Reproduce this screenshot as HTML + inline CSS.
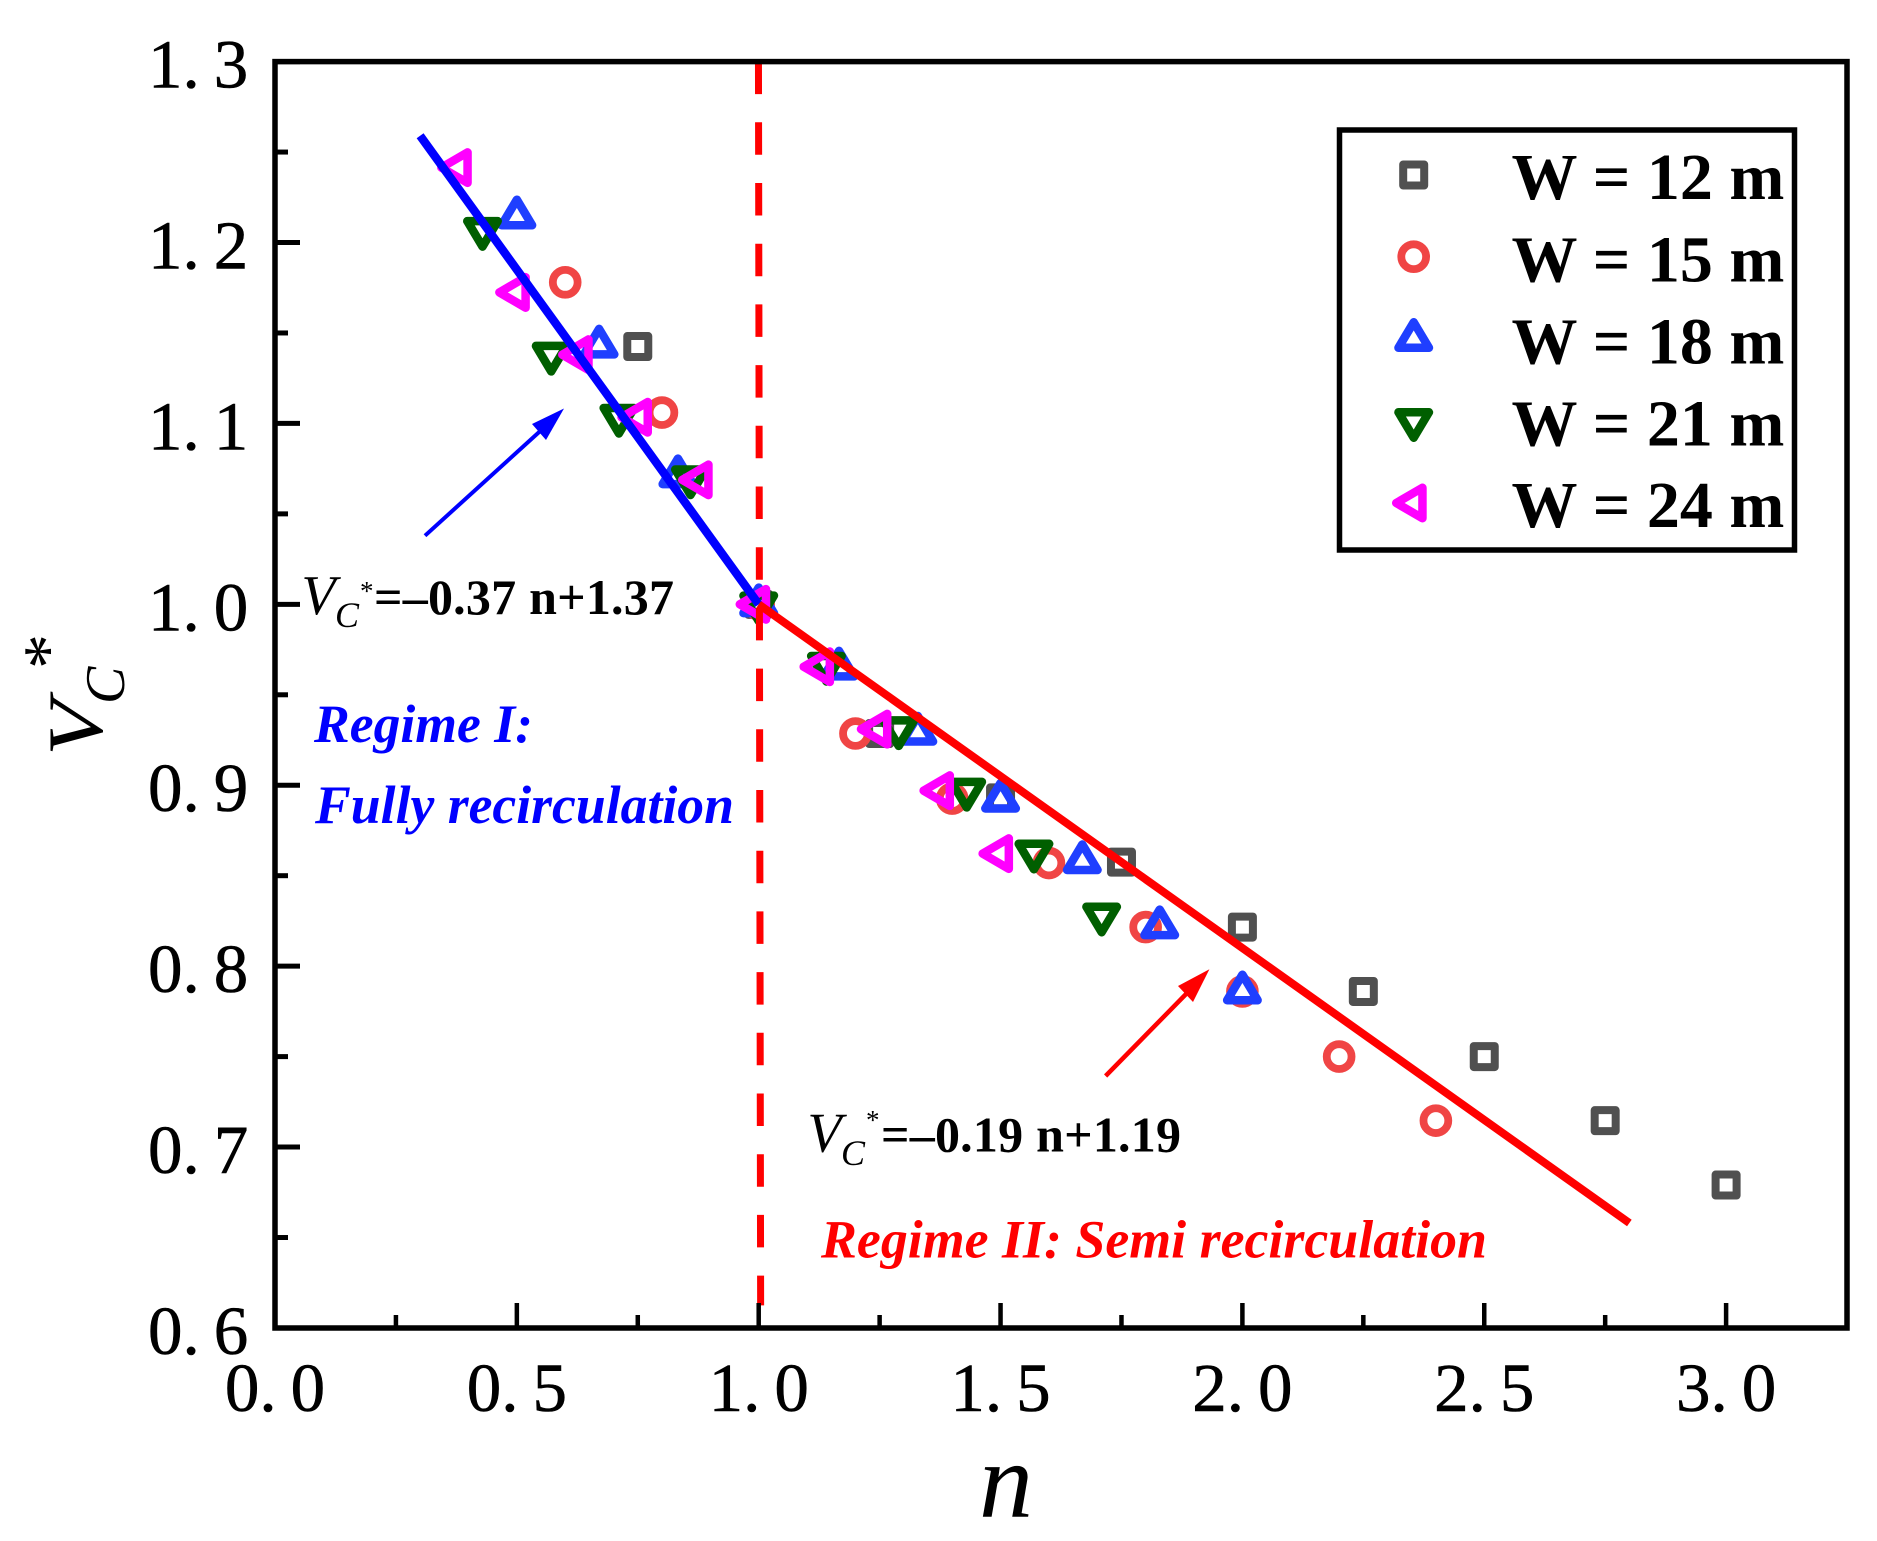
<!DOCTYPE html>
<html lang="en">
<head>
<meta charset="utf-8">
<title>Vc* versus n</title>
<style>
html,body{margin:0;padding:0;background:#fff;width:1877px;height:1541px;overflow:hidden}
svg{display:block}
text{font-family:"Liberation Serif",serif;fill:#000}
.b{font-weight:bold}
.i{font-style:italic}
</style>
</head>
<body>
<svg id="chart" xmlns="http://www.w3.org/2000/svg" width="1877" height="1541" viewBox="0 0 1877 1541">
  <rect x="0" y="0" width="1877" height="1541" fill="#fff"/>
  <g id="markers"></g>
  <g id="lines"></g>
  <rect x="275" y="61.6" width="1572" height="1266.4" fill="none" stroke="#000" stroke-width="5.5"/>
  <g id="ticks"></g>

  <g>
    <text class="i" font-size="78" transform="translate(102 756) rotate(-90) scale(1.17 1)">V</text>
    <text class="i" font-size="56" transform="translate(124 704) rotate(-90)">C</text>
    <text font-size="70" transform="translate(71 669) rotate(-90)">*</text>
  </g>
  <text class="i" font-size="108" x="1006" y="1517" text-anchor="middle">n</text>

  <g>
    <line x1="425" y1="535.7" x2="548" y2="424" stroke="#0000ff" stroke-width="4"/>
    <polygon points="564,408.5 532,424 546,440" fill="#0000ff"/>
  </g>
  <g>
    <line x1="1105.6" y1="1076" x2="1190" y2="990" stroke="#ff0000" stroke-width="4.5"/>
    <polygon points="1209.4,969.3 1178,986 1193,1002" fill="#ff0000"/>
  </g>

  <text font-size="50">
    <tspan class="i" x="301.4" y="614" font-size="56">V</tspan><tspan class="i" x="335" y="627" font-size="36">C</tspan><tspan x="360" y="600" font-size="27">*</tspan><tspan class="b" x="374" y="614" textLength="300">=–0.37 n+1.37</tspan>
  </text>
  <text font-size="50">
    <tspan class="i" x="807.4" y="1151.7" font-size="56">V</tspan><tspan class="i" x="841" y="1165" font-size="36">C</tspan><tspan x="866" y="1129" font-size="27">*</tspan><tspan class="b" x="881" y="1151.7" textLength="300">=–0.19 n+1.19</tspan>
  </text>

  <text class="b i" font-size="54" x="314" y="742" textLength="219" lengthAdjust="spacingAndGlyphs" style="fill:#0000ff">Regime I:</text>
  <text class="b i" font-size="54" x="315" y="823" textLength="419" lengthAdjust="spacingAndGlyphs" style="fill:#0000ff">Fully recirculation</text>
  <text class="b i" font-size="54" x="821" y="1257.7" textLength="666" lengthAdjust="spacingAndGlyphs" style="fill:#ff0000">Regime II: Semi recirculation</text>

  <g>
    <rect x="1339.5" y="130" width="455" height="420" fill="#fff" stroke="#000" stroke-width="5.5"/>
    <g>
      <rect x="1403.2" y="164.5" width="21" height="21" fill="none" stroke="#505050" stroke-width="8" stroke-linejoin="round"/>
      <text class="b" font-size="66" x="1511.5" y="199">W = 12 m</text>
    </g>
    <g>
      <circle cx="1413.7" cy="256.7" r="12.4" fill="none" stroke="#f04545" stroke-width="7.8"/>
      <text class="b" font-size="66" x="1511.5" y="281.5">W = 15 m</text>
    </g>
    <g>
      <polygon points="1413.7,322.25 1428.95,347.75 1398.45,347.75" fill="none" stroke="#1f3fff" stroke-width="8.5" stroke-linejoin="round"/>
      <text class="b" font-size="66" x="1511.5" y="363.5">W = 18 m</text>
    </g>
    <g>
      <polygon points="1413.7,437.75 1428.95,412.25 1398.45,412.25" fill="none" stroke="#005f00" stroke-width="8.5" stroke-linejoin="round"/>
      <text class="b" font-size="66" x="1511.5" y="445.5">W = 21 m</text>
    </g>
    <g>
      <polygon points="1396.25,503 1422.45,487.75 1422.45,518.25" fill="none" stroke="#ff00ff" stroke-width="8.5" stroke-linejoin="round"/>
      <text class="b" font-size="66" x="1511.5" y="527">W = 24 m</text>
    </g>
  </g>
</svg>

<script>
// ---- chart data ----
const w12X = [0.75, 1.0, 1.25, 1.5, 1.75, 2.0, 2.25, 2.5, 2.75, 3.0];
const w12Y = [1.1425, 1.0, 0.9286, 0.893, 0.8575, 0.8216, 0.786, 0.75, 0.7146, 0.679];
const w15X = [0.6, 0.8, 1.0, 1.2, 1.4, 1.6, 1.8, 2.0, 2.2, 2.4];
const w15Y = [1.178, 1.106, 1.0, 0.9286, 0.8926, 0.857, 0.8216, 0.786, 0.75, 0.7146];
const w18X = [0.5, 0.67, 0.833, 1.0, 1.166, 1.329, 1.5, 1.669, 1.829, 2.0];
const w18Y = [1.2144, 1.143, 1.0713, 1.0, 0.965, 0.929, 0.892, 0.858, 0.822, 0.786];
const w21X = [0.429, 0.571, 0.711, 0.859, 1.0, 1.14, 1.2895, 1.43, 1.569, 1.709];
const w21Y = [1.207, 1.138, 1.1037, 1.0697, 1.0, 0.9666, 0.931, 0.897, 0.8628, 0.828];
const w24X = [0.38, 0.5, 0.63, 0.7525, 0.878, 0.997, 1.129, 1.2476, 1.377, 1.499];
const w24Y = [1.2414, 1.1724, 1.138, 1.1034, 1.0688, 1.0, 0.9655, 0.931, 0.897, 0.8622];

const fit1X = [0.3, 1.0];
const fit1Y = [1.259, 1.0];
const fit2X = [1.0, 2.8];
const fit2Y = [1.0, 0.658];
const boundaryX = [0.9995, 1.004];
const boundaryY = [1.3, 0.6125];

const xMajorTicks = [0, 0.5, 1, 1.5, 2, 2.5, 3];
const xMinorTicks = [0.25, 0.75, 1.25, 1.75, 2.25, 2.75, 3.25];
const xTickLabels = ['0.0', '0.5', '1.0', '1.5', '2.0', '2.5', '3.0'];
const yMajorTicks = [0.6, 0.7, 0.8, 0.9, 1.0, 1.1, 1.2, 1.3];
const yMinorTicks = [0.65, 0.75, 0.85, 0.95, 1.05, 1.15, 1.25];
const yTickLabels = ['0.6', '0.7', '0.8', '0.9', '1.0', '1.1', '1.2', '1.3'];

// ---- axis functions ----
const plotLeft = 275, plotBottom = 1328, plotTop = 61.6;
function xScale(v) { return plotLeft + v * 483.7; }
function yScale(v) { return plotTop + (1.3 - v) * 1809.1; }

const NS = 'http://www.w3.org/2000/svg';
function make(tag, parent) {
  const el = document.createElementNS(NS, tag);
  parent.appendChild(el);
  return el;
}
function setAll(el, props) {
  for (const k in props) el.setAttribute(k, props[k]);
}

const markers = document.getElementById('markers');
const lines = document.getElementById('lines');
const ticks = document.getElementById('ticks');

// ---- markers ----
function drawSquares(xs, ys) {
  xs.forEach(function (x, i) {
    const el = make('rect', markers);
    setAll(el, { x: xScale(x) - 10.5, y: yScale(ys[i]) - 10.5, width: 21, height: 21, fill: 'none', stroke: '#505050', 'stroke-width': 8, 'stroke-linejoin': 'round' });
    
    
  });
}
function drawCircles(xs, ys) {
  xs.forEach(function (x, i) {
    const el = make('circle', markers);
    setAll(el, { cx: xScale(x), cy: yScale(ys[i]), r: 12.4, fill: 'none', stroke: '#f04545', 'stroke-width': 7.8 });
    
    
  });
}
function triangle(cx, cy, kind) {
  if (kind === 'up') return [cx, cy - 16.75, cx + 15.25, cy + 8.75, cx - 15.25, cy + 8.75].join(' ');
  if (kind === 'down') return [cx, cy + 16.75, cx + 15.25, cy - 8.75, cx - 15.25, cy - 8.75].join(' ');
  return [cx - 17.45, cy, cx + 8.75, cy - 15.25, cx + 8.75, cy + 15.25].join(' ');
}
function drawUp(xs, ys) {
  xs.forEach(function (x, i) {
    const el = make('polygon', markers);
    setAll(el, { points: triangle(xScale(x), yScale(ys[i]), 'up'), fill: 'none', stroke: '#1f3fff', 'stroke-width': 8.5, 'stroke-linejoin': 'round' });
    
    
  });
}
function drawDown(xs, ys) {
  xs.forEach(function (x, i) {
    const el = make('polygon', markers);
    setAll(el, { points: triangle(xScale(x), yScale(ys[i]), 'down'), fill: 'none', stroke: '#005f00', 'stroke-width': 8.5, 'stroke-linejoin': 'round' });
    
    
  });
}
function drawLeft(xs, ys) {
  xs.forEach(function (x, i) {
    const el = make('polygon', markers);
    setAll(el, { points: triangle(xScale(x), yScale(ys[i]), 'left'), fill: 'none', stroke: '#ff00ff', 'stroke-width': 8.5, 'stroke-linejoin': 'round' });
    
    
  });
}
drawSquares(w12X, w12Y);
drawCircles(w15X, w15Y);
drawUp(w18X, w18Y);
drawDown(w21X, w21Y);
drawLeft(w24X, w24Y);

// ---- lines ----
const boundary = make('line', lines);
setAll(boundary, { x1: xScale(boundaryX[0]), y1: yScale(boundaryY[0]), x2: xScale(boundaryX[1]), y2: yScale(boundaryY[1]), stroke: '#ff0000', 'stroke-width': 7, 'stroke-dasharray': '32.5 28.2' });



const fit1 = make('line', lines);
setAll(fit1, { x1: xScale(fit1X[0]), y1: yScale(fit1Y[0]), x2: xScale(fit1X[1]), y2: yScale(fit1Y[1]), stroke: '#0000ff', 'stroke-width': 8.5 });



const fit2 = make('line', lines);
setAll(fit2, { x1: xScale(fit2X[0]), y1: yScale(fit2Y[0]), x2: xScale(fit2X[1]), y2: yScale(fit2Y[1]), stroke: '#ff0000', 'stroke-width': 8 });



// ---- ticks and labels ----
function addLabel(str, x, y, anchor, name) {
  const t = make('text', ticks);
  setAll(t, { x: x, y: y, 'text-anchor': anchor, 'font-size': 69, stroke: '#000', 'stroke-width': 0.6 });
  
  
  const a = make('tspan', t);
  a.textContent = str.slice(0, 2);
  const b = make('tspan', t);
  b.setAttribute('dx', 14);
  b.textContent = str.slice(2);
}
xMajorTicks.forEach(function (v, i) {
  const el = make('line', ticks);
  setAll(el, { x1: xScale(v), x2: xScale(v), y1: plotBottom, y2: plotBottom - 25, stroke: '#000', 'stroke-width': 4.5 });
  
  
  addLabel(xTickLabels[i], xScale(v), 1411, 'middle', 'x-tick-label');
});
xMinorTicks.forEach(function (v) {
  const el = make('line', ticks);
  setAll(el, { x1: xScale(v), x2: xScale(v), y1: plotBottom, y2: plotBottom - 13, stroke: '#000', 'stroke-width': 4.5 });
  
  
});
yMajorTicks.forEach(function (v, i) {
  const el = make('line', ticks);
  setAll(el, { x1: plotLeft, x2: plotLeft + 25, y1: yScale(v), y2: yScale(v), stroke: '#000', 'stroke-width': 5 });
  
  
  addLabel(yTickLabels[i], 248.3, yScale(v) + 26, 'end', 'y-tick-label');
});
yMinorTicks.forEach(function (v) {
  const el = make('line', ticks);
  setAll(el, { x1: plotLeft, x2: plotLeft + 13, y1: yScale(v), y2: yScale(v), stroke: '#000', 'stroke-width': 5 });
  
  
});
</script>
</body>
</html>
